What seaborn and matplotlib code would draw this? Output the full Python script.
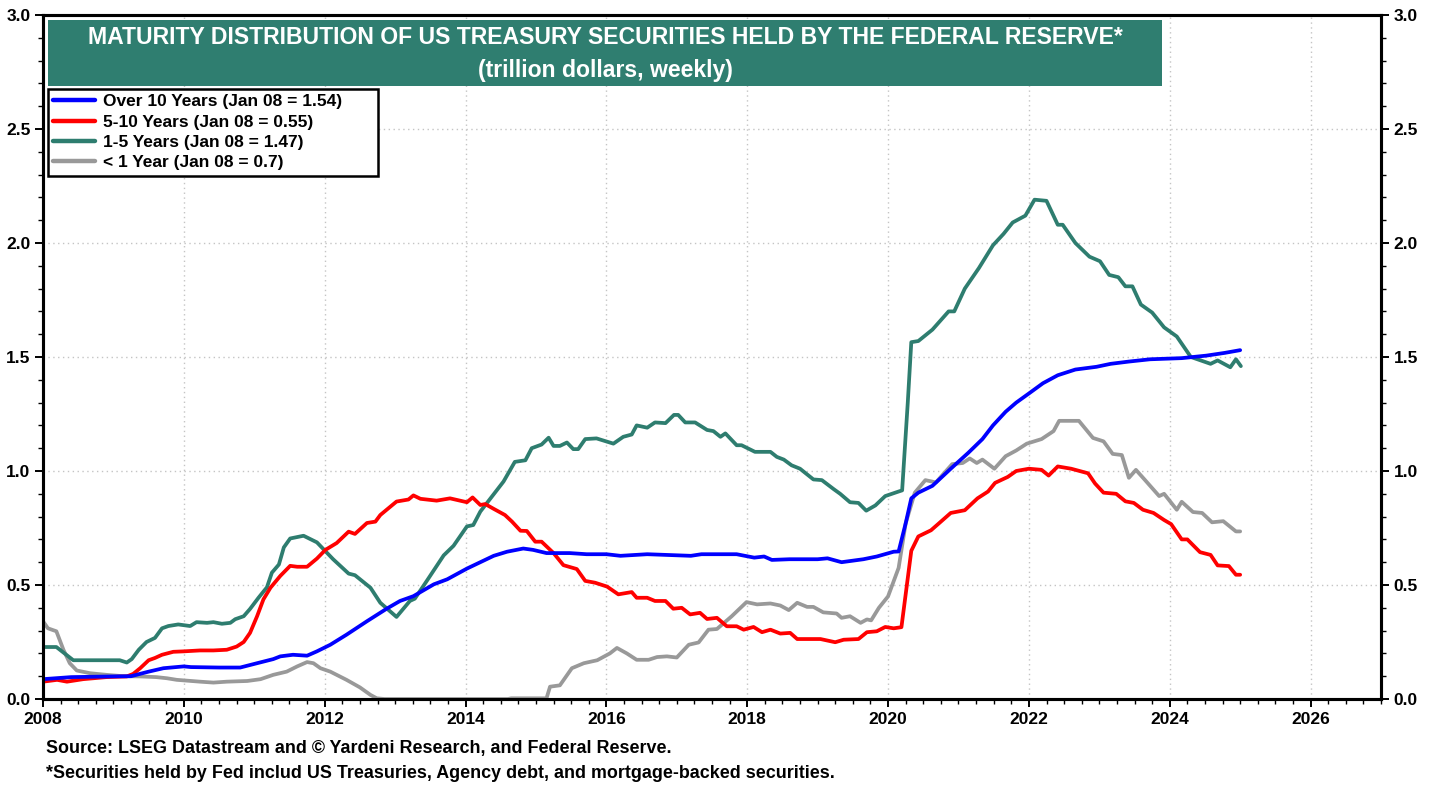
import matplotlib
matplotlib.use("Agg")
import matplotlib.pyplot as plt
import seaborn as sns
from matplotlib.patches import Rectangle
from matplotlib.ticker import MultipleLocator, FormatStrFormatter

# ---------------- data (trillion dollars) ----------------
over10_years = [2008.0, 2008.4, 2009.0, 2009.25, 2009.5, 2009.71, 2010.0, 2010.1, 2010.5, 2010.8,
                2011.04, 2011.27, 2011.37, 2011.55, 2011.75, 2011.89, 2012.08, 2012.31, 2012.6, 2012.88,
                2013.07, 2013.26, 2013.55, 2013.74, 2014.02, 2014.21, 2014.4, 2014.59, 2014.82, 2014.96,
                2015.15, 2015.48, 2015.72, 2016.0, 2016.2, 2016.58, 2017.2, 2017.35, 2017.85, 2018.1,
                2018.24, 2018.35, 2018.6, 2019.0, 2019.14, 2019.34, 2019.65, 2019.84, 2020.08, 2020.15,
                2020.25, 2020.33, 2020.43, 2020.63, 2020.89, 2021.14, 2021.34, 2021.49, 2021.67, 2021.82,
                2022.0, 2022.2, 2022.41, 2022.66, 2022.96, 2023.16, 2023.42, 2023.72, 2024.17, 2024.52,
                2024.78, 2025.0]
over10_vals = [0.087, 0.096, 0.099, 0.10, 0.12, 0.135, 0.143, 0.14, 0.138, 0.138,
               0.157, 0.175, 0.187, 0.194, 0.19, 0.209, 0.238, 0.282, 0.341, 0.396,
               0.43, 0.451, 0.503, 0.525, 0.572, 0.60, 0.628, 0.646, 0.66, 0.654,
               0.64, 0.64, 0.635, 0.635, 0.628, 0.635, 0.628, 0.635, 0.635, 0.62,
               0.625, 0.61, 0.613, 0.613, 0.617, 0.60, 0.613, 0.625, 0.646, 0.647,
               0.77, 0.88, 0.905, 0.935, 1.01, 1.08, 1.14, 1.20, 1.26, 1.30,
               1.34, 1.385, 1.42, 1.445, 1.457, 1.47, 1.48, 1.49, 1.495, 1.506,
               1.518, 1.53]

y5_10_years = [2008.0, 2008.2, 2008.34, 2008.57, 2008.9, 2009.19, 2009.28, 2009.38, 2009.5, 2009.59,
               2009.69, 2009.85, 2010.0, 2010.23, 2010.42, 2010.61, 2010.75, 2010.85, 2010.94, 2011.04,
               2011.13, 2011.23, 2011.37, 2011.51, 2011.61, 2011.75, 2011.89, 2012.01, 2012.17, 2012.34,
               2012.43, 2012.6, 2012.72, 2012.79, 2013.02, 2013.19, 2013.26, 2013.36, 2013.59, 2013.78,
               2014.02, 2014.1, 2014.21, 2014.28, 2014.4, 2014.56, 2014.66, 2014.78, 2014.87, 2014.99,
               2015.08, 2015.25, 2015.39, 2015.58, 2015.7, 2015.84, 2016.01, 2016.17, 2016.36, 2016.43,
               2016.58, 2016.69, 2016.84, 2016.95, 2017.07, 2017.19, 2017.33, 2017.43, 2017.57, 2017.71,
               2017.85, 2017.95, 2018.09, 2018.21, 2018.33, 2018.47, 2018.61, 2018.71, 2019.04, 2019.25,
               2019.37, 2019.58, 2019.7, 2019.84, 2019.96, 2020.08, 2020.19, 2020.33, 2020.43, 2020.61,
               2020.71, 2020.89, 2021.09, 2021.27, 2021.42, 2021.52, 2021.7, 2021.82, 2022.0, 2022.18,
               2022.28, 2022.41, 2022.6, 2022.84, 2022.94, 2023.06, 2023.24, 2023.37, 2023.49, 2023.62,
               2023.77, 2023.92, 2024.02, 2024.17, 2024.25, 2024.43, 2024.58, 2024.68, 2024.84, 2024.94,
               2025.0]
y5_10_vals = [0.076, 0.084, 0.076, 0.087, 0.096, 0.099, 0.11, 0.135, 0.17, 0.18,
              0.194, 0.207, 0.209, 0.213, 0.213, 0.216, 0.23, 0.25, 0.29, 0.363,
              0.437, 0.488, 0.54, 0.584, 0.58, 0.58, 0.616, 0.654, 0.684, 0.734,
              0.724, 0.772, 0.778, 0.807, 0.866, 0.875, 0.893, 0.878, 0.87, 0.88,
              0.863, 0.884, 0.851, 0.855, 0.834, 0.807, 0.778, 0.738, 0.737, 0.69,
              0.69, 0.64, 0.587, 0.57, 0.518, 0.51, 0.493, 0.459, 0.469, 0.444,
              0.444, 0.43, 0.43, 0.396, 0.40, 0.371, 0.378, 0.351, 0.356, 0.319,
              0.319, 0.304, 0.316, 0.293, 0.304, 0.287, 0.29, 0.263, 0.263, 0.249,
              0.26, 0.263, 0.293, 0.297, 0.316, 0.31, 0.315, 0.65, 0.713, 0.74,
              0.767, 0.816, 0.828, 0.88, 0.91, 0.948, 0.974, 1.0, 1.01, 1.005,
              0.98, 1.02, 1.01, 0.99, 0.945, 0.905, 0.90, 0.867, 0.86, 0.83,
              0.816, 0.785, 0.767, 0.70, 0.70, 0.644, 0.632, 0.586, 0.583, 0.545,
              0.545]

y1_5_years = [2008.0, 2008.19, 2008.43, 2009.09, 2009.19, 2009.26, 2009.36, 2009.47, 2009.59, 2009.69,
              2009.78, 2009.92, 2010.09, 2010.18, 2010.33, 2010.42, 2010.54, 2010.66, 2010.73, 2010.85,
              2010.94, 2011.06, 2011.18, 2011.25, 2011.35, 2011.42, 2011.51, 2011.7, 2011.89, 2012.12,
              2012.34, 2012.43, 2012.65, 2012.79, 2013.02, 2013.21, 2013.28, 2013.45, 2013.69, 2013.83,
              2014.02, 2014.11, 2014.21, 2014.35, 2014.54, 2014.7, 2014.85, 2014.94, 2015.08, 2015.18,
              2015.25, 2015.34, 2015.44, 2015.53, 2015.6, 2015.7, 2015.86, 2016.1, 2016.24, 2016.36,
              2016.43, 2016.58, 2016.69, 2016.84, 2016.96, 2017.02, 2017.12, 2017.26, 2017.43, 2017.52,
              2017.62, 2017.69, 2017.85, 2017.92, 2018.11, 2018.33, 2018.42, 2018.52, 2018.63, 2018.75,
              2018.94, 2019.06, 2019.23, 2019.32, 2019.46, 2019.58, 2019.69, 2019.82, 2019.96, 2020.15,
              2020.2, 2020.28, 2020.33, 2020.43, 2020.63, 2020.86, 2020.94, 2021.09, 2021.29, 2021.49,
              2021.64, 2021.77, 2021.95, 2022.08, 2022.25, 2022.41, 2022.48, 2022.66, 2022.86, 2023.01,
              2023.14, 2023.27, 2023.37, 2023.47, 2023.59, 2023.75, 2023.92, 2024.1, 2024.3, 2024.58,
              2024.68, 2024.86, 2024.94, 2025.01]
y1_5_vals = [0.228, 0.228, 0.17, 0.17, 0.16, 0.175, 0.216, 0.25, 0.268, 0.31,
             0.32, 0.327, 0.32, 0.337, 0.334, 0.337, 0.33, 0.334, 0.35, 0.363,
             0.395, 0.444, 0.49, 0.554, 0.59, 0.665, 0.704, 0.716, 0.687, 0.613,
             0.55, 0.543, 0.488, 0.422, 0.36, 0.43, 0.44, 0.518, 0.63, 0.672,
             0.757, 0.763, 0.822, 0.878, 0.954, 1.04, 1.047, 1.10, 1.116, 1.146,
             1.11, 1.11, 1.125, 1.096, 1.096, 1.14, 1.143, 1.12, 1.15, 1.16,
             1.20, 1.19, 1.213, 1.21, 1.246, 1.246, 1.213, 1.213, 1.18, 1.175,
             1.15, 1.165, 1.113, 1.113, 1.084, 1.084, 1.062, 1.05, 1.025, 1.01,
             0.963, 0.96, 0.92, 0.90, 0.863, 0.86, 0.826, 0.849, 0.89, 0.91,
             0.915, 1.30, 1.565, 1.57, 1.62, 1.70, 1.70, 1.80, 1.89, 1.99,
             2.04, 2.09, 2.12, 2.19, 2.185, 2.08, 2.08, 2.0, 1.94, 1.92,
             1.86, 1.85, 1.81, 1.81, 1.73, 1.695, 1.63, 1.59, 1.50, 1.47,
             1.485, 1.455, 1.49, 1.46]

lt1_years = [2008.0, 2008.07, 2008.19, 2008.29, 2008.38, 2008.48, 2008.67, 2008.9, 2009.14, 2009.38,
             2009.61, 2009.76, 2009.9, 2010.23, 2010.42, 2010.61, 2010.9, 2011.09, 2011.27, 2011.46,
             2011.61, 2011.75, 2011.84, 2011.94, 2012.08, 2012.31, 2012.5, 2012.65, 2012.74, 2012.85,
             2014.6, 2014.65, 2015.15, 2015.2, 2015.34, 2015.51, 2015.68, 2015.87, 2016.05, 2016.15,
             2016.29, 2016.43, 2016.6, 2016.72, 2016.86, 2017.0, 2017.17, 2017.31, 2017.45, 2017.57,
             2017.78, 2017.99, 2018.14, 2018.33, 2018.47, 2018.59, 2018.71, 2018.85, 2018.94, 2019.08,
             2019.27, 2019.34, 2019.46, 2019.61, 2019.7, 2019.76, 2019.87, 2020.0, 2020.15, 2020.25,
             2020.38, 2020.53, 2020.68, 2020.91, 2021.06, 2021.16, 2021.26, 2021.34, 2021.51, 2021.67,
             2021.82, 2021.97, 2022.18, 2022.35, 2022.43, 2022.71, 2022.91, 2023.06, 2023.19, 2023.32,
             2023.42, 2023.52, 2023.65, 2023.85, 2023.92, 2024.1, 2024.17, 2024.33, 2024.46, 2024.6,
             2024.76, 2024.94, 2025.0]
lt1_vals = [0.341, 0.31, 0.297, 0.216, 0.157, 0.125, 0.113, 0.106, 0.10, 0.099,
            0.096, 0.091, 0.084, 0.076, 0.072, 0.076, 0.079, 0.087, 0.106, 0.12,
            0.143, 0.162, 0.157, 0.135, 0.12, 0.084, 0.051, 0.018, 0.003, 0.0,
            0.0, 0.003, 0.003, 0.054, 0.06, 0.135, 0.157, 0.17, 0.2, 0.224,
            0.20, 0.172, 0.172, 0.184, 0.187, 0.182, 0.238, 0.248, 0.304, 0.307,
            0.363, 0.425, 0.415, 0.419, 0.41, 0.39, 0.422, 0.404, 0.404, 0.38,
            0.375, 0.356, 0.363, 0.334, 0.349, 0.345, 0.40, 0.45, 0.575, 0.77,
            0.905, 0.96, 0.95, 1.03, 1.035, 1.055, 1.035, 1.05, 1.01, 1.065,
            1.09, 1.12, 1.14, 1.175, 1.22, 1.22, 1.145, 1.13, 1.075, 1.07,
            0.97, 1.005, 0.96, 0.89, 0.90, 0.83, 0.865, 0.82, 0.816, 0.775,
            0.78, 0.735, 0.735]

series_labels = ["Over 10 Years (Jan 08 = 1.54)", "5-10 Years (Jan 08 = 0.55)",
                 "1-5 Years (Jan 08 = 1.47)", "< 1 Year (Jan 08 = 0.7)"]
series_colors = ["#0000ff", "#ff0000", "#2e7d6f", "#999999"]

title_line1 = "MATURITY DISTRIBUTION OF US TREASURY SECURITIES HELD BY THE FEDERAL RESERVE*"
title_line2 = "(trillion dollars, weekly)"
source_line1 = "Source: LSEG Datastream and \u00a9 Yardeni Research, and Federal Reserve."
source_line2 = "*Securities held by Fed includ US Treasuries, Agency debt, and mortgage-backed securities."

# ---------------- figure ----------------
sns.set_theme(style="white")
plt.rcParams['font.family'] = ['Liberation Sans', 'DejaVu Sans']
plt.rcParams['font.weight'] = 'bold'
plt.rcParams['text.color'] = 'black'
plt.rcParams['axes.labelcolor'] = 'black'
plt.rcParams['xtick.color'] = 'black'
plt.rcParams['ytick.color'] = 'black'

W, H = 1438, 787
fig = plt.figure(figsize=(W / 100, H / 100), dpi=100)
fig.patch.set_facecolor("white")
L, R, T, B = 43, 1381, 15, 699
ax = fig.add_axes([L / W, 1 - B / H, (R - L) / W, (B - T) / H])
ax.set_facecolor("white")

data = [(over10_years, over10_vals), (y5_10_years, y5_10_vals),
        (y1_5_years, y1_5_vals), (lt1_years, lt1_vals)]
for i in [3, 2, 1, 0]:
    xs, ys = data[i]
    sns.lineplot(x=xs, y=ys, ax=ax, color=series_colors[i], linewidth=2.7,
                 estimator=None, sort=False, label=series_labels[i], zorder=3 + (3 - i) * 0.1)

TICK_FS = 12.5
ax.set_xlim(2008, 2027)
ax.set_ylim(0, 3.0)
ax.xaxis.set_major_locator(MultipleLocator(2))
ax.xaxis.set_minor_locator(MultipleLocator(0.25))
ax.yaxis.set_major_locator(MultipleLocator(0.5))
ax.yaxis.set_minor_locator(MultipleLocator(0.1))
ax.yaxis.set_major_formatter(FormatStrFormatter("%.1f"))
ax.xaxis.set_major_formatter(FormatStrFormatter("%d"))
ax.grid(True, which="major", color="#c4c4c4", linestyle=(0, (1, 2.5)), linewidth=1.0)
ax.set_axisbelow(True)
ax.set_xlabel("")
ax.set_ylabel("")

for sp in ax.spines.values():
    sp.set_visible(True)
    sp.set_color("black")
    sp.set_linewidth(2.2)

ax.tick_params(axis="both", which="major", direction="out", length=6, width=1.4,
               labelsize=TICK_FS, colors="black", pad=3)
ax.tick_params(axis="both", which="minor", direction="out", length=3.5, width=1.0, colors="black")
ax.tick_params(axis="x", which="both", bottom=True, top=False)
ax.tick_params(axis="y", which="both", left=True, right=False)
for lab in ax.get_xticklabels() + ax.get_yticklabels():
    lab.set_fontweight("bold")

ax2 = ax.twinx()
ax2.set_ylim(0, 3.0)
ax2.yaxis.set_major_locator(MultipleLocator(0.5))
ax2.yaxis.set_minor_locator(MultipleLocator(0.1))
ax2.yaxis.set_major_formatter(FormatStrFormatter("%.1f"))
ax2.tick_params(axis="y", which="major", direction="out", length=6, width=1.4,
                labelsize=TICK_FS, colors="black", pad=3)
ax2.tick_params(axis="y", which="minor", direction="out", length=3.5, width=1.0, colors="black")
for sp in ax2.spines.values():
    sp.set_linewidth(2.2)
    sp.set_color("black")
for lab in ax2.get_yticklabels():
    lab.set_fontweight("bold")
ax2.grid(False)

# title box
x0 = (48 - L) / (R - L)
x1 = (1162 - L) / (R - L)
y0 = (B - 86) / (B - T)
y1 = (B - 20) / (B - T)
ax.add_patch(Rectangle((x0, y0), x1 - x0, y1 - y0, transform=ax.transAxes,
                       facecolor="#2f7e70", edgecolor="none", zorder=6))
xc = (x0 + x1) / 2
ax.text(xc, (B - 38) / (B - T), title_line1, transform=ax.transAxes, ha="center", va="center",
        color="white", fontsize=16.6, fontweight="bold", zorder=7)
ax.text(xc, (B - 70) / (B - T), title_line2, transform=ax.transAxes, ha="center", va="center",
        color="white", fontsize=16.6, fontweight="bold", zorder=7)

# legend (box spans x 48..378 px, top at 89 px)
h, l = ax.get_legend_handles_labels()
hl = dict(zip(l, h))
lx0 = (48 - L) / (R - L)
lw = (378 - 48) / (R - L)
ly1 = (B - 89) / (B - T)
leg = ax.legend([hl[s] for s in series_labels], series_labels,
                loc="upper left", bbox_to_anchor=(lx0, ly1 - 0.2, lw, 0.2), mode="expand",
                frameon=True, fancybox=False, edgecolor="black", framealpha=1.0,
                prop={"size": 12.5, "weight": "bold"}, labelcolor="black",
                handlelength=2.4, handletextpad=0.45,
                labelspacing=0.3, borderpad=0.3, borderaxespad=0.0)
leg.get_frame().set_linewidth(1.8)
leg.set_zorder(8)
for line in leg.get_lines():
    line.set_linewidth(3.2)

# footnotes
fig.text(46 / W, 1 - 748 / H, source_line1, fontsize=12.85, fontweight="bold", va="center", ha="left",
         color="black")
fig.text(46 / W, 1 - 773 / H, source_line2, fontsize=12.85, fontweight="bold", va="center", ha="left",
         color="black")

fig.savefig("out.png", dpi=100, facecolor="white")
